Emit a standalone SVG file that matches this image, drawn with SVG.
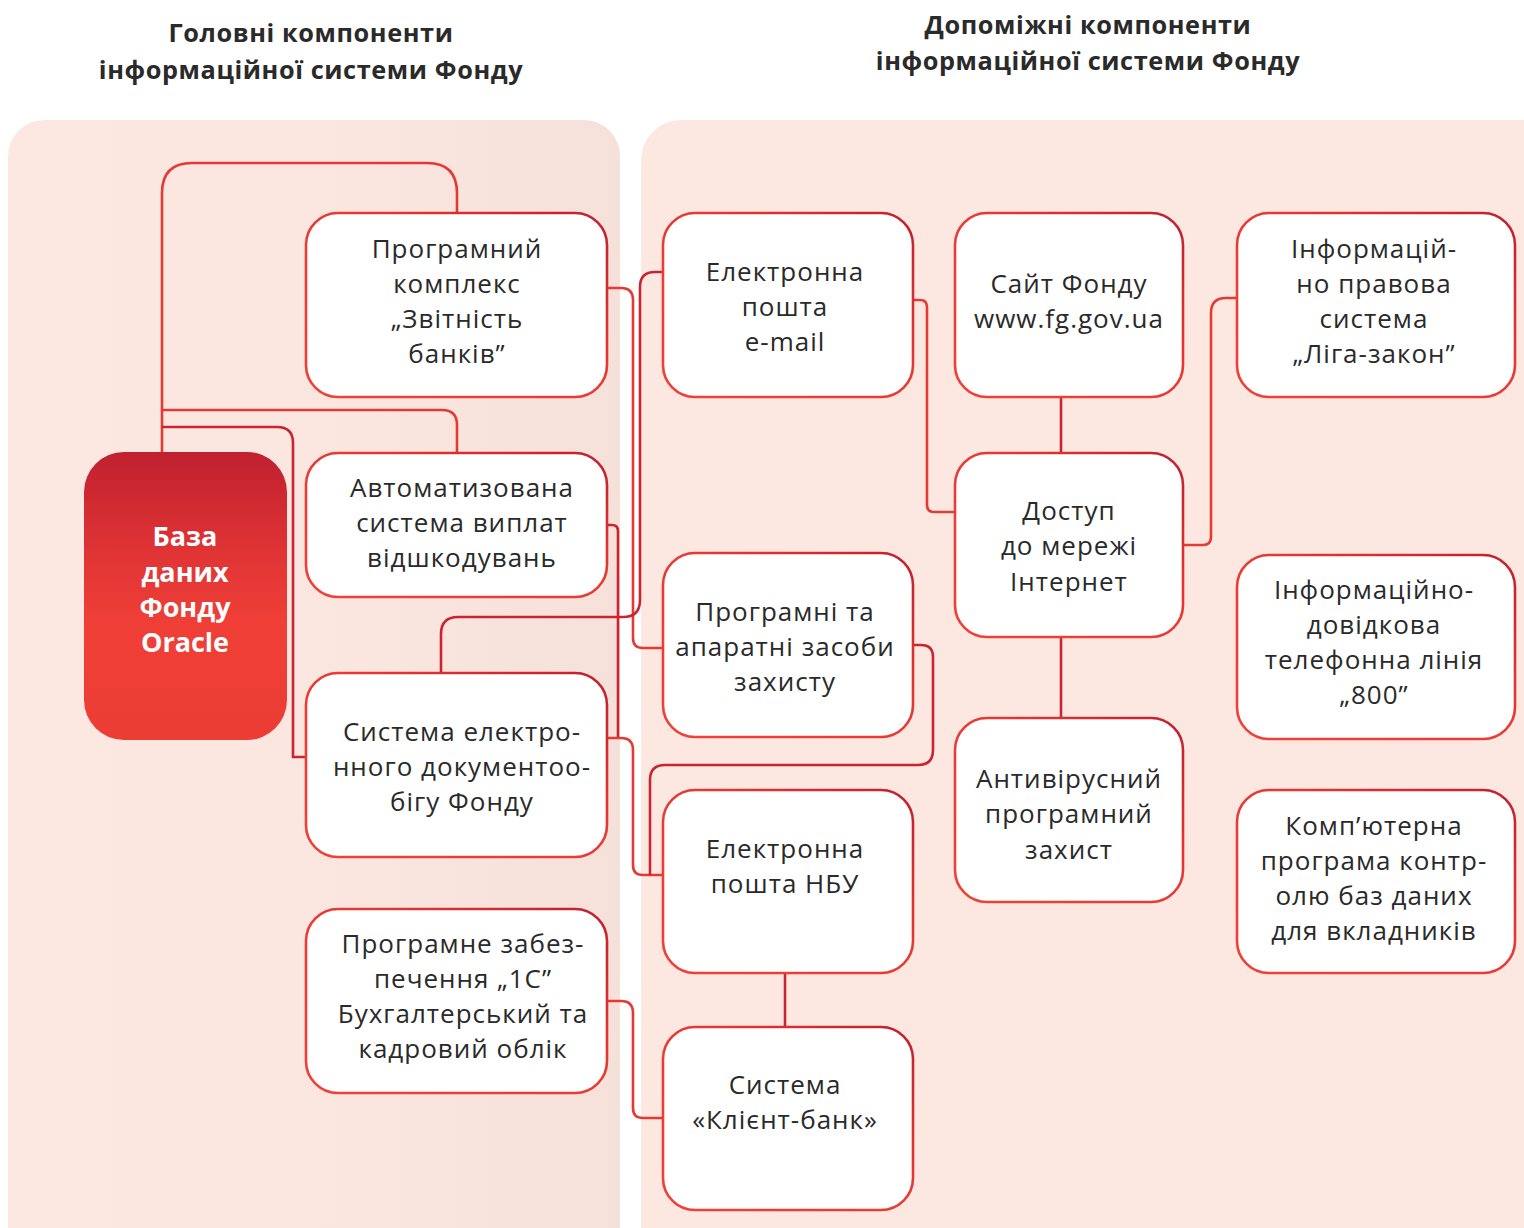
<svg xmlns="http://www.w3.org/2000/svg" width="1524" height="1228" viewBox="0 0 1524 1228">
<defs>
<linearGradient id="panelL" x1="0" y1="0" x2="1" y2="0">
<stop offset="0" stop-color="#fde8e1"/><stop offset="0.6" stop-color="#fbe6df"/><stop offset="1" stop-color="#f5e0da"/>
</linearGradient>
<linearGradient id="strokeG" x1="0" y1="1" x2="1" y2="0">
<stop offset="0" stop-color="#ef4136"/><stop offset="0.55" stop-color="#e83a34"/><stop offset="1" stop-color="#c0202f"/>
</linearGradient>
<linearGradient id="dbG" x1="0" y1="0" x2="0" y2="1">
<stop offset="0" stop-color="#c02030"/><stop offset="0.35" stop-color="#e03435"/><stop offset="0.6" stop-color="#ef3f37"/><stop offset="1" stop-color="#ec3d35"/>
</linearGradient>
<style>
.box{fill:#ffffff;stroke:url(#strokeG);stroke-width:2.6}
.t{font-family:"Open Sans","Noto Sans","DejaVu Sans",sans-serif;font-size:26px;fill:#2a2a2a;text-anchor:middle;letter-spacing:1px}
.h{font-family:"Open Sans","Noto Sans","DejaVu Sans",sans-serif;font-size:25.3px;font-weight:700;fill:#2a2a2a;text-anchor:middle;letter-spacing:0.6px}
.w{font-family:"Open Sans","Noto Sans","DejaVu Sans",sans-serif;font-size:27px;font-weight:700;fill:#ffffff;text-anchor:middle}
.c{fill:none;stroke:#e53a34;stroke-width:2.6}
.cd{fill:none;stroke:#c8252f;stroke-width:2.6}
</style>
</defs>
<rect width="1524" height="1228" fill="#ffffff"/>
<rect x="8" y="120" width="612" height="1160" rx="36" fill="url(#panelL)"/>
<rect x="641" y="120" width="940" height="1160" rx="40" fill="#fde8e1"/>
<g id="titles">
<text class="h" x="311" y="42">Головні компоненти</text>
<text class="h" x="311" y="79">інформаційної системи Фонду</text>
<text class="h" x="1088" y="34">Допоміжні компоненти</text>
<text class="h" x="1088" y="70">інформаційної системи Фонду</text>
</g>
<g id="connectors">
<path class="c" d="M162,452 V193 Q162,163 192,163 H427 Q457,163 457,193 V213"/>
<path class="c" d="M162,410 H442 Q457,410 457,425 V453"/>
<path class="cd" d="M162,427 H277 Q293,427 293,443 V757 H306"/>
<path class="c" d="M607,288 H621 Q633,288 633,300 V638 Q633,648 643,648 H663"/>
<path class="cd" d="M663,272 H655 Q640,272 640,287 V600 Q640,617 623,617 H458 Q441,617 441,634 V673"/>
<path class="cd" d="M607,525 H612 Q618,525 618,531 V738"/>
<path class="c" d="M607,738 H621 Q633,738 633,750 V865 Q633,875 643,875 H663"/>
<path class="cd" d="M913,645 H921 Q933,645 933,657 V750 Q933,765 918,765 H665 Q650,765 650,780 V875"/>
<path class="c" d="M607,1001 H621 Q633,1001 633,1013 V1108 Q633,1118 643,1118 H663"/>
<path class="c" d="M913,300 H920 Q927,300 927,307 V505 Q927,512 934,512 H955"/>
<path class="c" d="M1237,298 H1226 Q1211,298 1211,313 V537 Q1211,545 1203,545 H1184"/>
<path class="cd" d="M1061,397 V453"/>
<path class="cd" d="M1061,637 V718"/>
<path class="cd" d="M785,973 V1027"/>
</g>
<g id="db">
<rect x="84" y="452" width="203" height="288" rx="40" fill="url(#dbG)"/>
<text class="w" x="185" y="546">База</text>
<text class="w" x="185" y="582">даних</text>
<text class="w" x="185" y="617">Фонду</text>
<text class="w" x="185" y="652">Oracle</text>
</g>
<g id="zvitnist">
<rect class="box" x="306" y="213" width="301" height="184" rx="32"/>
<text class="t" x="457" y="258">Програмний</text>
<text class="t" x="457" y="293">комплекс</text>
<text class="t" x="457" y="328">„Звітність</text>
<text class="t" x="457" y="363">банків”</text>
</g>
<g id="avtomat">
<rect class="box" x="306" y="453" width="301" height="144" rx="32"/>
<text class="t" x="462" y="497">Автоматизована</text>
<text class="t" x="462" y="532">система виплат</text>
<text class="t" x="462" y="567">відшкодувань</text>
</g>
<g id="sed">
<rect class="box" x="306" y="673" width="301" height="184" rx="32"/>
<text class="t" x="462" y="741">Система електро-</text>
<text class="t" x="462" y="776">нного документоо-</text>
<text class="t" x="462" y="811">бігу Фонду</text>
</g>
<g id="1c">
<rect class="box" x="306" y="909" width="301" height="184" rx="32"/>
<text class="t" x="463" y="953">Програмне забез-</text>
<text class="t" x="463" y="988">печення „1С”</text>
<text class="t" x="463" y="1023">Бухгалтерський та</text>
<text class="t" x="463" y="1058">кадровий облік</text>
</g>
<g id="email">
<rect class="box" x="663" y="213" width="250" height="184" rx="32"/>
<text class="t" x="785" y="281">Електронна</text>
<text class="t" x="785" y="316">пошта</text>
<text class="t" x="785" y="351">e-mail</text>
</g>
<g id="zahyst">
<rect class="box" x="663" y="553" width="250" height="184" rx="32"/>
<text class="t" x="785" y="621">Програмні та</text>
<text class="t" x="785" y="656">апаратні засоби</text>
<text class="t" x="785" y="691">захисту</text>
</g>
<g id="nbu">
<rect class="box" x="663" y="790" width="250" height="183" rx="32"/>
<text class="t" x="785" y="858">Електронна</text>
<text class="t" x="785" y="893">пошта НБУ</text>
</g>
<g id="klient">
<rect class="box" x="663" y="1027" width="250" height="183" rx="32"/>
<text class="t" x="785" y="1094">Система</text>
<text class="t" x="785" y="1129">«Клієнт-банк»</text>
</g>
<g id="sait">
<rect class="box" x="955" y="213" width="228" height="184" rx="32"/>
<text class="t" x="1069" y="293">Сайт Фонду</text>
<text class="t" x="1069" y="328">www.fg.gov.ua</text>
</g>
<g id="internet">
<rect class="box" x="955" y="453" width="228" height="184" rx="32"/>
<text class="t" x="1069" y="520">Доступ</text>
<text class="t" x="1069" y="555">до мережі</text>
<text class="t" x="1069" y="591">Інтернет</text>
</g>
<g id="antivirus">
<rect class="box" x="955" y="718" width="228" height="184" rx="32"/>
<text class="t" x="1069" y="788">Антивірусний</text>
<text class="t" x="1069" y="823">програмний</text>
<text class="t" x="1069" y="859">захист</text>
</g>
<g id="liga">
<rect class="box" x="1237" y="213" width="278" height="184" rx="32"/>
<text class="t" x="1374" y="258">Інформацій-</text>
<text class="t" x="1374" y="293">но правова</text>
<text class="t" x="1374" y="328">система</text>
<text class="t" x="1374" y="363">„Ліга-закон”</text>
</g>
<g id="line800">
<rect class="box" x="1237" y="555" width="278" height="184" rx="32"/>
<text class="t" x="1374" y="599">Інформаційно-</text>
<text class="t" x="1374" y="634">довідкова</text>
<text class="t" x="1374" y="669">телефонна лінія</text>
<text class="t" x="1374" y="704">„800”</text>
</g>
<g id="kontrol">
<rect class="box" x="1237" y="790" width="278" height="183" rx="32"/>
<text class="t" x="1374" y="835">Комп’ютерна</text>
<text class="t" x="1374" y="870">програма контр-</text>
<text class="t" x="1374" y="905">олю баз даних</text>
<text class="t" x="1374" y="940">для вкладників</text>
</g>
</svg>
